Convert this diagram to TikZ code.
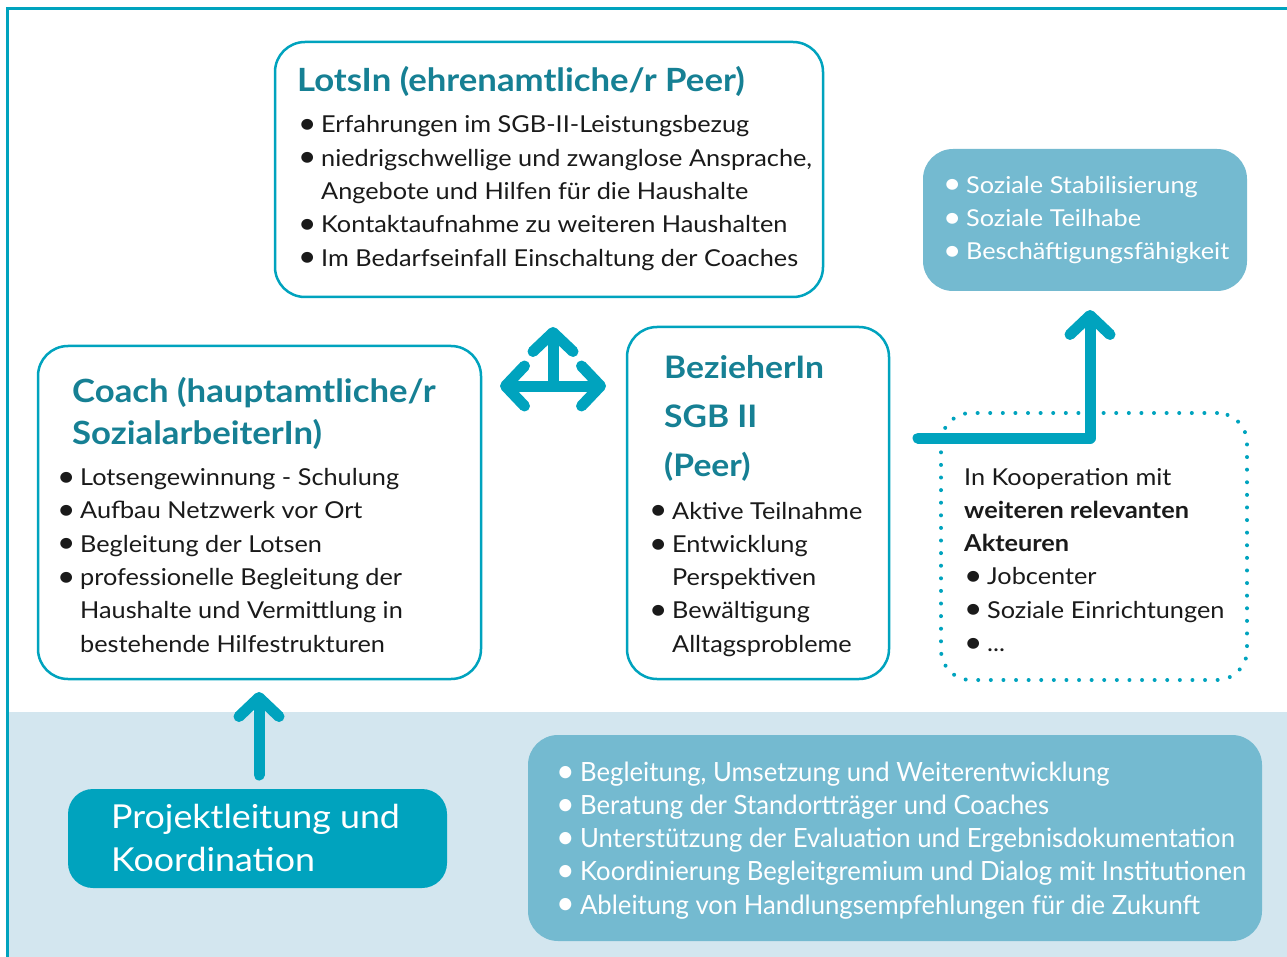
\documentclass[tikz,border=0pt]{standalone}
\usepackage{fontspec}
\setmainfont[FakeStretch=1.085]{Lato}
\newfontfamily\condfont[FakeStretch=0.97]{Lato}
\usetikzlibrary{arrows.meta}
\definecolor{lotsteal}{RGB}{0,163,190}
\definecolor{titleteal}{RGB}{22,128,148}
\definecolor{softblue}{RGB}{116,186,208}
\definecolor{bandblue}{RGB}{211,230,239}
\definecolor{ink}{RGB}{26,26,26}
\tikzstyle{fat} = [line width=11pt, draw=lotsteal, line cap=round, line join=round]
\tikzstyle{tip} = [-{Straight Barb[length=19pt, width=40pt, round]}]
\tikzstyle{box} = [draw=lotsteal, line width=2.5pt, fill=white, rounded corners=30pt]
\tikzstyle{softbox} = [fill=softblue, rounded corners=30pt]
\tikzstyle{title} = [font=\fontsize{32}{41}\selectfont\bfseries, text=titleteal, align=left, anchor=base west]
\tikzstyle{body} = [font=\fontsize{23.3}{33.3}\selectfont, text=ink, align=left, anchor=base west]
\newcommand{\itm}{\raisebox{-0.03em}{\scalebox{1.25}{\textbullet}}\hspace{0.2em}}
\newcommand{\cont}{\hphantom{\itm}}

\begin{document}
\begin{tikzpicture}[x=1pt, y=-1pt, every node/.style={inner sep=0pt}]
		\useasboundingbox (0,0) rectangle (1287,957);
		\fill[bandblue] (9,712) rectangle (1287,957);
		\draw[lotsteal, line width=2.7pt] (1290,8.5) -- (7.5,8.5) -- (7.5,960);

		% boxes
		\node (lots) [box, minimum width=548pt, minimum height=255pt] at (549,169.5) {};
		\node (coach) [box, minimum width=443pt, minimum height=333pt] at (259.5,512.5) {};
		\node (bezieher) [box, minimum width=262pt, minimum height=352pt] at (758,503) {};
		\node (ziele) [softbox, minimum width=324pt, minimum height=142pt] at (1085,220) {};
		\node (akteure) [draw=lotsteal, line width=4pt, dash pattern=on 0pt off 12.6pt, line cap=round, rounded corners=30pt, minimum width=306pt, minimum height=267pt] at (1094,546.5) {};
		\node (proj) [fill=lotsteal, rounded corners=25pt, minimum width=379pt, minimum height=99pt] at (257.5,838.5) {};
		\node (aufgaben) [softbox, minimum width=734pt, minimum height=206pt] at (895,838) {};

		% texts (anchored on the baseline of their last line)
		\node (lotstitle) [title] at (297,92) {LotsIn (ehrenamtliche/r Peer)};
		\node (lotstext) [body] at (298,266.2) {\itm Erfahrungen im SGB-II-Leistungsbezug\\ \itm niedrigschwellige und zwanglose Ansprache,\\ \cont Angebote und Hilfen für die Haushalte\\ \itm Kontaktaufnahme zu weiteren Haushalten\\ \itm Im Bedarfseinfall Einschaltung der Coaches};
		\node (coachtitle) [title, font=\fontsize{32}{42}\selectfont\bfseries] at (72,444) {Coach (hauptamtliche/r\\SozialarbeiterIn)};
		\node (coachtext) [body] at (57,652) {\itm Lotsengewinnung - Schulung\\ \itm Aufbau Netzwerk vor Ort\\ \itm Begleitung der Lotsen\\ \itm professionelle Begleitung der\\ \cont Haushalte und Vermittlung in\\ \cont bestehende Hilfestrukturen};
		\node (beztitle) [title, font=\fontsize{31}{49.3}\selectfont\bfseries] at (664,476.7) {BezieherIn\\SGB II\\(Peer)};
		\node (beztext) [body] at (649,652.2) {\itm Aktive Teilnahme\\ \itm Entwicklung\\ \cont Perspektiven\\ \itm Bewältigung\\ \cont Alltagsprobleme};
		\node (zieletext) [body, text=white] at (943,259.9) {\itm Soziale Stabilisierung\\ \itm Soziale Teilhabe\\ \itm Beschäftigungsfähigkeit};
		\node (akteuretext) [body] at (964,651.5) {In Kooperation mit\\ \textbf{weiteren relevanten}\\ \textbf{Akteuren}\\ \itm Jobcenter\\ \itm Soziale Einrichtungen\\ \itm ...};
		\node (projtext) [body, text=white, font=\fontsize{33}{43.4}\selectfont] at (111,871.7) {Projektleitung und\\Koordination};
		\node (aufgabentext) [body, text=white, font=\condfont\fontsize{26.5}{33.1}\selectfont] at (556,914) {\itm Begleitung, Umsetzung und Weiterentwicklung\\ \itm Beratung der Standortträger und Coaches\\ \itm Unterstützung der Evaluation und Ergebnisdokumentation\\ \itm Koordinierung Begleitgremium und Dialog mit Institutionen\\ \itm Ableitung von Handlungsempfehlungen für die Zukunft};

		% arrows
		\coordinate (upfoot) at (259,775);
		\coordinate (uptip) at (259,692);
		\coordinate (twl) at (500,386);
		\coordinate (twr) at (606,386);
		\coordinate (twc) at (553,386);
		\coordinate (twt) at (553,327);
		\coordinate (elfoot) at (918,438);
		\coordinate (eltip) at (1090,310);

		\draw [fat, tip] (upfoot) -- (uptip);
		\draw [fat, {Straight Barb[length=19pt, width=40pt, round]}-{Straight Barb[length=19pt, width=40pt, round]}] (twl) -- (twr);
		\draw [fat, tip] (twc) -- (twt);
		\draw [fat, tip] (elfoot) -| (eltip);
	\end{tikzpicture}
\end{document}
